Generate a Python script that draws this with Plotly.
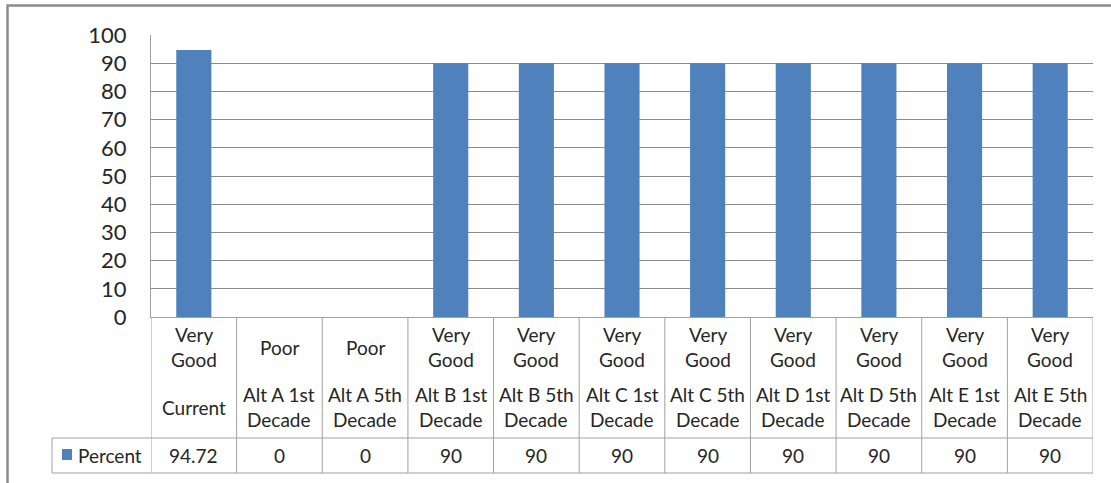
import plotly.graph_objects as go

quality = ["Very Good", "Poor", "Poor", "Very Good", "Very Good", "Very Good",
           "Very Good", "Very Good", "Very Good", "Very Good", "Very Good"]
periods = ["Current", "Alt A 1st Decade", "Alt A 5th Decade", "Alt B 1st Decade",
           "Alt B 5th Decade", "Alt C 1st Decade", "Alt C 5th Decade",
           "Alt D 1st Decade", "Alt D 5th Decade", "Alt E 1st Decade", "Alt E 5th Decade"]
value_labels = ["94.72", "0", "0", "90", "90", "90", "90", "90", "90", "90", "90"]
percent = [94.72, 0, 0, 90, 90, 90, 90, 90, 90, 90, 90]
series_name = "Percent"

W, H = 1111, 483
L, R, T, B = 151, 1093, 35, 317
PH = B - T
PW = R - L
FONT = "Lato"
TXT = "#262626"
LINE = "#a0a0a0"
BAR = "#4F81BD"

def py(pix):
    return (B - pix) / PH

def px(pix):
    return (pix - L) / PW

n = len(percent)
xs = list(range(n))

fig = go.Figure()
fig.add_trace(go.Bar(x=xs, y=percent, marker=dict(color=BAR, line=dict(width=0)),
                     name=series_name, showlegend=False))

shapes = []
annotations = []

def wrap(s):
    if s == "Very Good":
        return ["Very", "Good"]
    if s.startswith("Alt"):
        return [s.rsplit(" ", 1)[0], s.rsplit(" ", 1)[1]]
    return [s]

LH = 24.5
TS = 19
for i in xs:
    for label, center in ((quality[i], 347), (periods[i], 407)):
        lines = wrap(label)
        k = len(lines)
        for j, ln in enumerate(lines):
            yc = center + (j - (k - 1) / 2) * LH
            annotations.append(dict(x=i, y=py(yc), xref="x", yref="paper", text=ln,
                                    showarrow=False, xanchor="center", yanchor="middle",
                                    font=dict(family=FONT, size=TS, color=TXT)))
    annotations.append(dict(x=i, y=py(455), xref="x", yref="paper", text=value_labels[i],
                            showarrow=False, xanchor="center", yanchor="middle",
                            font=dict(family=FONT, size=TS, color=TXT)))

# legend key + series name in table
shapes.append(dict(type="rect", xref="paper", yref="paper", x0=px(62), x1=px(72),
                   y0=py(460), y1=py(449), fillcolor=BAR, line=dict(width=0)))
annotations.append(dict(x=px(76), y=py(455), xref="paper", yref="paper", text=series_name,
                        showarrow=False, xanchor="left", yanchor="middle",
                        font=dict(family=FONT, size=TS, color=TXT)))

# table grid lines
for b in range(n + 1):
    shapes.append(dict(type="line", xref="x", yref="paper", x0=b - 0.5, x1=b - 0.5,
                       y0=py(473), y1=0, line=dict(color=LINE, width=1)))
for yy in (438, 473):
    shapes.append(dict(type="line", xref="paper", yref="paper", x0=px(52), x1=1,
                       y0=py(yy), y1=py(yy), line=dict(color=LINE, width=1)))
shapes.append(dict(type="line", xref="paper", yref="paper", x0=px(52), x1=px(52),
                   y0=py(473), y1=py(438), line=dict(color=LINE, width=1)))
# outer chart frame
shapes.append(dict(type="rect", xref="paper", yref="paper", x0=px(7.5), x1=px(1140),
                   y0=py(520), y1=py(5.5), line=dict(color="#8c8c8c", width=2.5),
                   fillcolor="rgba(0,0,0,0)", layer="above"))

fig.update_layout(
    width=W, height=H,
    margin=dict(l=L, r=W - R, t=T, b=H - B, pad=0),
    paper_bgcolor="white", plot_bgcolor="white",
    bargap=0.59,
    shapes=shapes, annotations=annotations,
    xaxis=dict(range=[-0.5, n - 0.5], showticklabels=False, showgrid=False,
               zeroline=False, showline=True, linecolor=LINE, linewidth=1, ticks=""),
    yaxis=dict(range=[0, 100], dtick=10, showgrid=True, gridcolor="#8c8c8c", gridwidth=1,
               zeroline=False, showline=True, linecolor=LINE, linewidth=1, ticks="",
               ticklabelstandoff=19,
               tickfont=dict(family=FONT, size=22, color=TXT)),
    font=dict(family=FONT, color=TXT),
)

fig.write_html("out.html", config={"displayModeBar": False},
               post_script="document.body.style.margin='0';document.body.style.overflow='hidden';")
